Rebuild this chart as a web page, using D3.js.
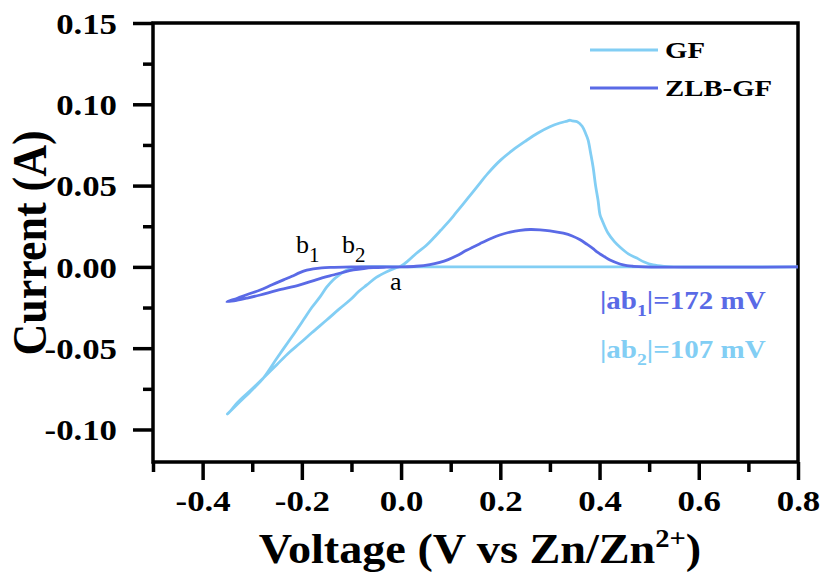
<!DOCTYPE html>
<html><head><meta charset="utf-8">
<script src="https://cdn.jsdelivr.net/npm/d3@7"></script>
<style>body{margin:0;background:#fff}svg{display:block}</style>
</head><body><svg id="c" width="827" height="578"></svg>
<script>
// ---- data ----
const gfVoltage = [0.8,0.5,0.0,-0.08,-0.10,-0.11,-0.125,-0.137,-0.15,-0.163,-0.18,-0.197,-0.22,-0.25,-0.278,-0.30,-0.325,-0.35,
  -0.345,-0.33,-0.30,-0.278,-0.25,-0.225,-0.204,-0.18,-0.15,-0.125,-0.103,-0.085,-0.069,-0.05,-0.029,-0.01,0.0,0.015,0.031,0.05,0.065,0.08,0.095,0.11,0.125,0.14,0.155,0.175,0.2,0.225,0.25,0.275,0.3,0.32,0.335,0.34,0.345,0.355,0.365,0.372,0.377,0.382,0.387,0.392,0.397,0.401,0.405,0.417,0.43,0.441,0.458,0.475,0.49,0.508,0.53,0.55,0.8];
const gfCurrent = [0,0,0,0,-0.001,-0.002,-0.005,-0.008,-0.0125,-0.0183,-0.025,-0.0327,-0.043,-0.056,-0.0685,-0.0755,-0.083,-0.0905,
  -0.089,-0.0835,-0.075,-0.0685,-0.060,-0.0525,-0.047,-0.0405,-0.0327,-0.026,-0.0204,-0.015,-0.0111,-0.0065,-0.003,-0.0005,0.0005,0.004,0.0084,0.013,0.0176,0.0225,0.0275,0.0330,0.0386,0.0443,0.0500,0.0575,0.0655,0.0718,0.0772,0.0822,0.0862,0.0885,0.0897,0.0902,0.0898,0.0893,0.0865,0.082,0.078,0.07,0.0614,0.05,0.041,0.032,0.0288,0.0208,0.0155,0.0122,0.008,0.0054,0.003,0.0012,0.0003,0,0];
const zlbVoltage = [0.0,-0.1,-0.137,-0.16,-0.177,-0.19,-0.204,-0.22,-0.237,-0.26,-0.284,-0.31,-0.33,-0.351,
  -0.33,-0.31,-0.284,-0.25,-0.204,-0.17,-0.137,-0.115,-0.096,-0.075,-0.056,-0.03,0.0,0.03,0.058,0.078,0.095,0.112,0.132,0.159,0.18,0.199,0.22,0.24,0.26,0.28,0.30,0.327,0.345,0.36,0.375,0.387,0.394,0.41,0.421,0.441,0.455,0.467,0.49,0.8];
const zlbCurrent = [0,0,-0.0003,-0.0006,-0.0012,-0.002,-0.0035,-0.0058,-0.008,-0.011,-0.0142,-0.017,-0.0193,-0.0215,
  -0.0205,-0.0192,-0.0173,-0.0145,-0.0111,-0.0078,-0.005,-0.0032,-0.0019,-0.001,-0.0005,-0.0002,0,0.0004,0.0014,0.0028,0.0045,0.0068,0.0102,0.0143,0.0173,0.0196,0.0214,0.0225,0.023,0.0228,0.0222,0.0207,0.019,0.0168,0.0138,0.0112,0.0094,0.0062,0.0042,0.0018,0.0008,0.0004,0,0];
const xTicks = [-0.4,-0.2,0.0,0.2,0.4,0.6,0.8];
const xMinorTicks = [-0.5,-0.3,-0.1,0.1,0.3,0.5,0.7];
const yTicks = [-0.10,-0.05,0.00,0.05,0.10,0.15];
const yMinorTicks = [-0.075,-0.025,0.025,0.075,0.125];
const seriesNames = ["GF","ZLB-GF"];
const seriesColors = ["#82cef4","#5a6ae6"];

// ---- layout ----
const m = {l:153, r:798, t:23, b:462};
const svg = d3.select("#c");
const x = d3.scaleLinear().domain([-0.5,0.8]).range([m.l,m.r]);
const y = d3.scaleLinear().domain([-0.12,0.15]).range([m.b,m.t]);
const serif = "'Liberation Serif','Times New Roman',serif";
const hy = s => s.replace("\u2212","-");

// horizontal stretch of text around its anchor (reference glyphs are wide)
function sx(sel,k){
  sel.attr("transform",function(){
    const x0=+this.getAttribute("x")||0, y0=+this.getAttribute("y")||0;
    return `translate(${x0},${y0}) scale(${k},1) translate(${-x0},${-y0})`;
  });
}

// minor ticks
svg.append("g").attr("transform",`translate(0,${m.b})`)
  .call(d3.axisBottom(x).tickValues(xMinorTicks).tickSize(10).tickFormat(""))
  .call(g=>{g.select(".domain").remove(); g.selectAll("line").attr("stroke","#000").attr("stroke-width",3.5);});
svg.append("g").attr("transform",`translate(${m.l},0)`)
  .call(d3.axisLeft(y).tickValues(yMinorTicks).tickSize(10).tickFormat(""))
  .call(g=>{g.select(".domain").remove(); g.selectAll("line").attr("stroke","#000").attr("stroke-width",3.5);});
// major ticks
const xAx = svg.append("g").attr("transform",`translate(0,${m.b})`)
  .call(d3.axisBottom(x).tickValues(xTicks).tickSize(18).tickPadding(10).tickFormat(d=>hy(d3.format(".1f")(d))));
const yAx = svg.append("g").attr("transform",`translate(${m.l},0)`)
  .call(d3.axisLeft(y).tickValues(yTicks).tickSize(20).tickPadding(16).tickFormat(d=>hy(d3.format(".2f")(d))));
[xAx,yAx].forEach(a=>{
  a.select(".domain").remove();
  a.selectAll("line").attr("stroke","#000").attr("stroke-width",3.5);
  a.selectAll("text").attr("font-family",serif).attr("font-weight","bold").attr("font-size",29).attr("fill","#000");
});
yAx.selectAll("text").attr("dy","0.35em");
sx(xAx.selectAll("text"),1.2);
sx(yAx.selectAll("text"),1.2);

// frame
svg.append("rect").attr("x",m.l).attr("y",m.t).attr("width",m.r-m.l).attr("height",m.b-m.t)
  .attr("fill","none").attr("stroke","#000").attr("stroke-width",3.5);

// curves
const line = d3.line().x(d=>x(d[0])).y(d=>y(d[1])).curve(d3.curveCatmullRom.alpha(0.5));
const plot = svg.append("g");
plot.append("path").datum(gfVoltage.map((v,i)=>[v,gfCurrent[i]]))
  .attr("d",line).attr("fill","none").attr("stroke",seriesColors[0]).attr("stroke-width",2.8).attr("stroke-linejoin","round");
plot.append("path").datum(zlbVoltage.map((v,i)=>[v,zlbCurrent[i]]))
  .attr("d",line).attr("fill","none").attr("stroke",seriesColors[1]).attr("stroke-width",2.8).attr("stroke-linejoin","round");

// legend
const leg = svg.append("g");
seriesNames.forEach((n,i)=>{
  const yy = 50 + i*38;
  leg.append("line").attr("x1",590).attr("x2",658).attr("y1",yy).attr("y2",yy)
    .attr("stroke",seriesColors[i]).attr("stroke-width",2.8);
  const t = leg.append("text").attr("x",665).attr("y",yy+8).text(n)
    .attr("font-family",serif).attr("font-weight","bold").attr("font-size",24).attr("fill","#000");
  sx(t,1.2);
});

// point labels
const lab = svg.append("g").attr("font-family",serif).attr("font-size",26).attr("fill","#000");
function sub(g, px, py, main, s){
  const t = g.append("text").attr("x",px).attr("y",py);
  t.append("tspan").text(main);
  t.append("tspan").attr("dy",9).attr("font-size",21).text(s);
  return t;
}
sub(lab, 296, 253, "b", "1");
sub(lab, 342, 253, "b", "2");
lab.append("text").attr("x",390).attr("y",290).text("a");

// annotations
function ann(py, s, val, col){
  const t = svg.append("text").attr("x",600).attr("y",py).attr("font-family",serif)
    .attr("font-weight","bold").attr("font-size",25).attr("fill",col);
  t.append("tspan").text("|ab");
  t.append("tspan").attr("dy",7).attr("font-size",17).text(s);
  t.append("tspan").attr("dy",-7).text("|=" + val + " mV");
  sx(t,1.16);
}
ann(309, "1", 172, seriesColors[1]);
ann(358, "2", 107, seriesColors[0]);

// axis titles
const xt = svg.append("text").attr("x",480).attr("y",563).attr("text-anchor","middle")
  .attr("font-family",serif).attr("font-weight","bold").attr("font-size",42).attr("fill","#000");
xt.append("tspan").text("Voltage (V vs Zn/Zn");
xt.append("tspan").attr("dy",-16).attr("font-size",26).text("2+");
xt.append("tspan").attr("dy",16).text(")");
sx(xt,1.1);
svg.append("text").attr("transform",`translate(46,243) rotate(-90) scale(1,1.12)`).attr("text-anchor","middle")
  .attr("font-family",serif).attr("font-weight","bold").attr("font-size",44).attr("fill","#000")
  .text("Current (A)");
</script></body></html>
